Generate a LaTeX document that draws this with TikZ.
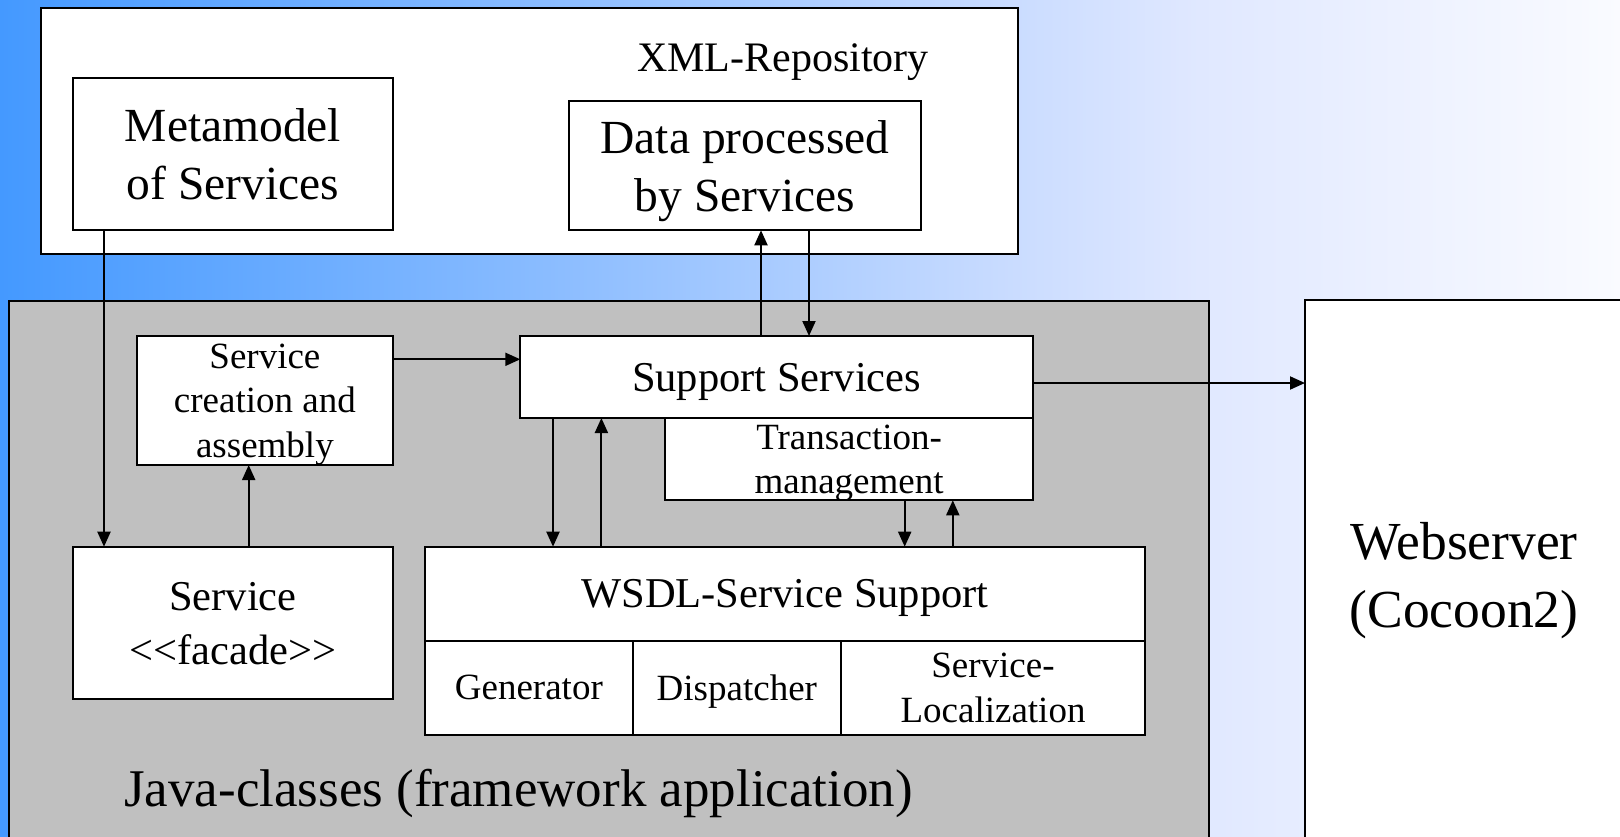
\documentclass[tikz,border=0pt]{standalone}
\usepackage{fontspec}
\setmainfont{Liberation Serif}
\usetikzlibrary{arrows.meta}
\definecolor{javagray}{RGB}{192,192,192}
\pgfdeclarehorizontalshading{bgshade}{100bp}{rgb(0bp)=(0.267,0.6,1); rgb(25bp)=(0.267,0.6,1); rgb(41.4bp)=(0.533,0.733,1); rgb(56.8bp)=(0.8,0.867,1); rgb(62bp)=(0.878,0.91,1); rgb(75bp)=(0.98,0.984,1); rgb(100bp)=(0.98,0.984,1)}
\begin{document}
\begin{tikzpicture}[x=1pt,y=-1pt,
  box/.style={draw=black, fill=white, line width=2pt, inner sep=0pt, outer sep=0pt, align=center, text depth=-4pt},
  fA/.style={font=\fontsize{37}{44.5}\selectfont},
  fB/.style={font=\fontsize{42.5}{50}\selectfont},
  fC/.style={font=\fontsize{47.5}{58}\selectfont},
  fD/.style={font=\fontsize{53.5}{68}\selectfont},
  fE/.style={font=\fontsize{53}{64}\selectfont},
  arr/.style={line width=2pt, -{Triangle[length=15pt,width=13pt]}}]
\useasboundingbox (0,0) rectangle (1620,836);
\clip (0,0) rectangle (1620,836);
\shade[shading=bgshade] (0,0) rectangle (1620,836);

% XML repository
\node[box, minimum width=977.5pt, minimum height=246.5pt] (xml) at (529.25,130.75) {};
\node[anchor=base, font=\fontsize{42}{50}\selectfont, inner sep=0pt] (xmllbl) at (783,71.5) {XML-Repository};
\node[box, fC, minimum width=320pt, minimum height=152pt] (meta) at (233,154.3) {Metamodel\\of Services};
\node[box, fC, minimum width=352.7pt, minimum height=129pt] (data) at (745,165.8) {Data processed\\by Services};

% Java classes
\node[draw=black, fill=javagray, line width=2pt, inner sep=0pt, outer sep=0pt, minimum width=1200.3pt, minimum height=559.3pt] (java) at (608.85,580.35) {};
\node[anchor=base west, fE, inner sep=0pt] (javalbl) at (124,806) {Java-classes (framework application)};

% Webserver
\node[box, fD, minimum width=318pt, minimum height=560pt, text depth=10pt] (web) at (1464,580) {Webserver\\(Cocoon2)};

% inner boxes
\node[box, fA, minimum width=256.2pt, minimum height=129pt] (create) at (264.9,400.5) {Service\\creation and\\assembly};
\node[box, fB, minimum width=512.7pt, minimum height=82pt] (support) at (776.65,377) {Support Services};
\node[box, fA, minimum width=367.8pt, minimum height=82.3pt] (trans) at (849.1,459.15) {Transaction-\\management};
\node[box, font=\fontsize{42.5}{54}\selectfont, minimum width=320.2pt, minimum height=152.6pt, text depth=-8pt] (facade) at (232.9,623) {Service\\{<}{<}facade{>}{>}};
\node[box, fB, minimum width=720pt, minimum height=94pt, text depth=-8pt] (wsdl) at (785,593.7) {WSDL-Service Support};
\node[box, fA, minimum width=207.7pt, minimum height=94pt, text depth=-6pt] (gen) at (528.85,687.7) {Generator};
\node[box, fA, minimum width=208.3pt, minimum height=94pt, text depth=-6pt] (disp) at (736.85,687.7) {Dispatcher};
\node[box, fA, minimum width=304pt, minimum height=94pt] (loc) at (993,687.7) {Service-\\Localization};

% connectors
\draw[arr] (104,0 |- meta.south) -- (104,0 |- facade.north);
\draw[arr] (248.7,0 |- facade.north) -- (248.7,0 |- create.south);
\draw[arr] (create.east |- 0,359.3) -- (support.west |- 0,359.3);
\draw[arr] (761,0 |- support.north) -- (761,0 |- data.south);
\draw[arr] (809,0 |- data.south) -- (809,0 |- support.north);
\draw[arr] (553,0 |- support.south) -- (553,0 |- wsdl.north);
\draw[arr] (601.4,0 |- wsdl.north) -- (601.4,0 |- support.south);
\draw[arr] (904.7,0 |- trans.south) -- (904.7,0 |- wsdl.north);
\draw[arr] (952.8,0 |- wsdl.north) -- (952.8,0 |- trans.south);
\draw[arr] (support.east |- 0,383) -- (web.west |- 0,383);
\end{tikzpicture}
\end{document}
